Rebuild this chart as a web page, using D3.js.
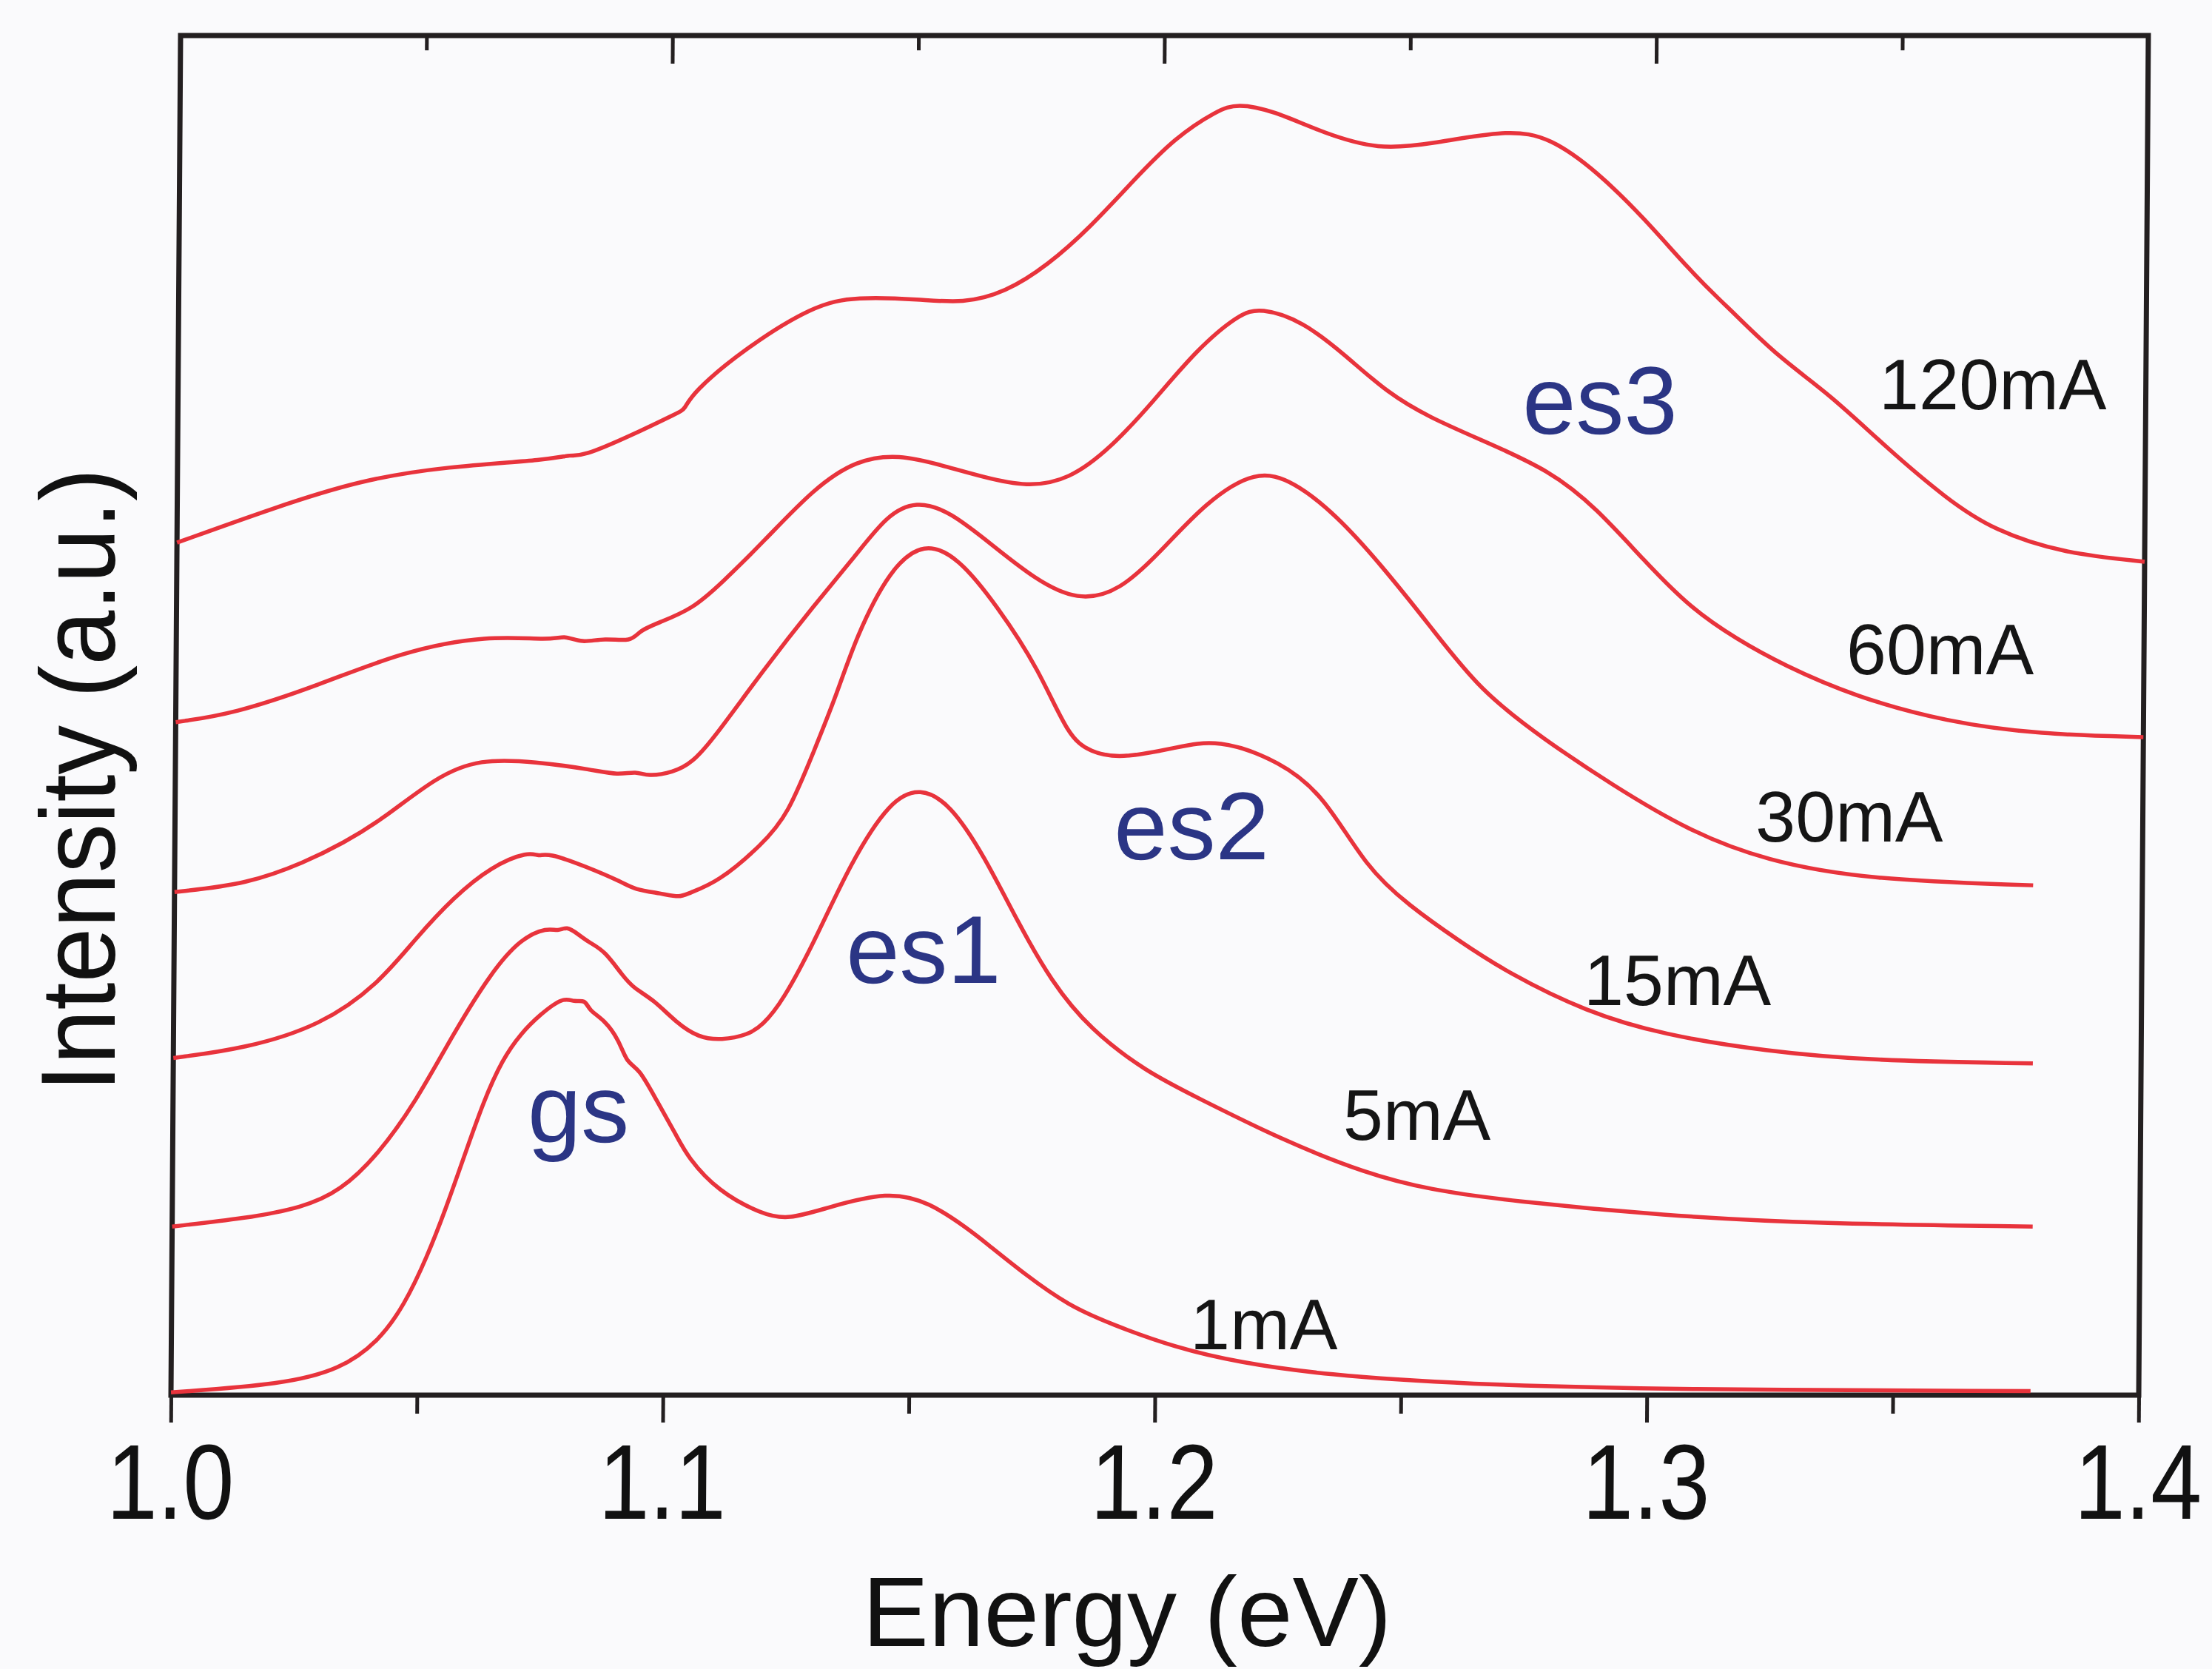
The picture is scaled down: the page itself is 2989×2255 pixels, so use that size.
<!DOCTYPE html>
<html>
<head>
<meta charset="utf-8">
<title>EL spectra vs current</title>
<script src="https://cdn.jsdelivr.net/npm/d3@7"></script>
<style>
  body { margin: 0; background: #fafafc; }
  text { font-family: "Liberation Sans", Arial, Helvetica, sans-serif; }
</style>
</head>
<body>
<svg width="2989" height="2255"></svg>
<script>
// spectra: [energy (eV), intensity (a.u., curves stacked)]
var s1mA = [[1.000,0.2],[1.0229,0.8],[1.0344,1.9],[1.0420,3.9],[1.0473,6.6],[1.0519,10.2],[1.0555,13.6],[1.0594,17.7],[1.0631,21.6],[1.0669,24.7],[1.0706,26.6],[1.0745,28.0],[1.0792,29.3],[1.0814,28.9],[1.0837,29.1],[1.0844,28.3],[1.0876,27.6],[1.0906,26.1],[1.0922,24.4],[1.0946,24.1],[1.0984,21.6],[1.1024,19.1],[1.1047,17.5],[1.1109,15.0],[1.1199,13.3],[1.1252,12.9],[1.1332,13.8],[1.1455,15.0],[1.1539,14.2],[1.1619,12.2],[1.1651,11.3],[1.1737,8.8],[1.1823,6.6],[1.1911,5.2],[1.2041,3.5],[1.2171,2.4],[1.2344,1.5],[1.2624,0.8],[1.3052,0.4],[1.3780,0.3]];
var s5mA = [[1.000,12.4],[1.0149,13.0],[1.0265,13.8],[1.0341,15.0],[1.0418,17.7],[1.0494,21.6],[1.0569,26.6],[1.0645,31.1],[1.0705,33.6],[1.0759,34.4],[1.0780,34.1],[1.0798,34.5],[1.0821,33.9],[1.0843,33.3],[1.0875,32.7],[1.0913,30.8],[1.0936,29.9],[1.0975,29.1],[1.1022,27.4],[1.1067,26.3],[1.1114,26.1],[1.1168,26.5],[1.1197,27.2],[1.1237,28.9],[1.1305,33.6],[1.1373,39.1],[1.1454,43.8],[1.1515,44.7],[1.1575,43.5],[1.1645,39.7],[1.1716,34.7],[1.1784,30.4],[1.1863,26.9],[1.1977,23.8],[1.2081,21.9],[1.2253,18.8],[1.2426,16.3],[1.2556,15.1],[1.2717,14.3],[1.3030,13.2],[1.3345,12.6],[1.3782,12.4]];
var s15mA = [[1.000,24.8],[1.0147,25.5],[1.0300,27.2],[1.0415,30.2],[1.0491,33.6],[1.0567,36.6],[1.0644,38.9],[1.0720,40.0],[1.0740,39.6],[1.0758,39.9],[1.0835,38.9],[1.0912,37.7],[1.0934,37.2],[1.0989,36.9],[1.1028,36.6],[1.1043,36.9],[1.1104,37.7],[1.1194,40.5],[1.1246,42.7],[1.1298,47.4],[1.1342,51.4],[1.1382,55.8],[1.1450,60.8],[1.1519,62.8],[1.1589,61.6],[1.1667,58.1],[1.1754,53.4],[1.1815,48.4],[1.1860,47.3],[1.1919,46.8],[1.2032,47.6],[1.2118,48.3],[1.2247,46.6],[1.2335,44.1],[1.2422,38.8],[1.2510,36.0],[1.2608,33.5],[1.2714,31.0],[1.2871,28.2],[1.3028,26.5],[1.3237,25.3],[1.3446,24.6],[1.3780,24.4]];
var s30mA = [[1.000,37.0],[1.0150,37.6],[1.0265,39.2],[1.0342,40.6],[1.0420,42.3],[1.0531,45.5],[1.0618,46.8],[1.0732,46.6],[1.0848,46.0],[1.0900,45.6],[1.0937,45.9],[1.0960,45.5],[1.1012,45.8],[1.1050,46.5],[1.1092,48.2],[1.1195,53.4],[1.1296,58.1],[1.1381,61.8],[1.1442,64.7],[1.1502,65.8],[1.1571,65.0],[1.1658,62.5],[1.1745,60.0],[1.1831,58.4],[1.1917,59.1],[1.2004,62.2],[1.2089,65.6],[1.2192,68.1],[1.2270,67.2],[1.2357,64.7],[1.2445,61.2],[1.2548,56.6],[1.2651,51.8],[1.2783,48.2],[1.2920,44.9],[1.3077,41.5],[1.3234,39.3],[1.3444,37.9],[1.3778,37.5]];
var s60mA = [[1.000,49.5],[1.0117,50.1],[1.0289,52.2],[1.0460,54.7],[1.0633,55.9],[1.0762,55.5],[1.0790,55.9],[1.0824,55.3],[1.0870,55.7],[1.0926,55.4],[1.0940,56.2],[1.0979,56.8],[1.1048,57.8],[1.1107,59.7],[1.1193,62.8],[1.1294,66.7],[1.1380,68.8],[1.1467,69.2],[1.1553,68.4],[1.1640,67.5],[1.1726,66.8],[1.1812,67.3],[1.1898,69.7],[1.1983,73.1],[1.2070,76.9],[1.2155,79.5],[1.2199,80.0],[1.2285,79.0],[1.2372,76.5],[1.2459,73.7],[1.2545,71.9],[1.2647,70.3],[1.2791,68.0],[1.2886,65.2],[1.2982,61.4],[1.3077,57.9],[1.3172,55.6],[1.3267,53.7],[1.3411,51.4],[1.3601,49.5],[1.3790,48.6],[1.4000,48.4]];
var s120mA = [[1.000,62.7],[1.0199,65.3],[1.0372,67.3],[1.0545,68.3],[1.0760,68.8],[1.0800,69.2],[1.0821,69.0],[1.0923,70.6],[1.1019,72.3],[1.1030,72.5],[1.1045,73.7],[1.1148,76.9],[1.1292,80.2],[1.1377,80.8],[1.1508,80.6],[1.1594,80.3],[1.1680,81.1],[1.1766,83.1],[1.1852,85.9],[1.1938,89.3],[1.2023,92.5],[1.2109,94.5],[1.2149,95.0],[1.2221,94.5],[1.2326,92.8],[1.2437,91.6],[1.2541,92.0],[1.2700,93.1],[1.2786,92.5],[1.2881,90.0],[1.2977,86.6],[1.3072,82.7],[1.3140,80.3],[1.3158,79.7],[1.3254,76.3],[1.3358,73.6],[1.3473,69.7],[1.3597,65.9],[1.3693,63.6],[1.3836,61.9],[1.4000,61.3]];

var series = [s1mA, s5mA, s15mA, s30mA, s60mA, s120mA];
var currents = ["1mA", "5mA", "15mA", "30mA", "60mA", "120mA"];
// where each current label sits, in data units [E, I]
var currentLabelAt = [[1.2071,3.4],[1.2379,18.8],[1.2866,28.7],[1.3213,40.7],[1.3395,53.0],[1.3458,72.5]];

var peaks = ["gs", "es1", "es2", "es3"];
var peakLabelAt = [[1.0721,18.6],[1.1366,30.3],[1.1909,39.4],[1.2733,70.7]];

var majorTicks = [1.0, 1.1, 1.2, 1.3, 1.4];
var minorTicks = [1.05, 1.15, 1.25, 1.35];

var svg = d3.select("svg");
var box = {left: 231, right: 2890, top: 48, bottom: 1885};

var x = d3.scaleLinear().domain([1.0, 1.4]).range([box.left, box.right]);
var y = d3.scaleLinear().domain([0, 100]).range([box.bottom, box.top]);

// the scanned figure leans a little, so the plot gets a tiny skew
var g = svg.append("g")
  .attr("transform", "translate(0," + box.bottom + ") skewX(-0.405) translate(0," + (-box.bottom) + ")");

var ink = "#231f20";

// frame
g.append("rect")
  .attr("x", box.left).attr("y", box.top)
  .attr("width", box.right - box.left).attr("height", box.bottom - box.top)
  .attr("fill", "none").attr("stroke", ink).attr("stroke-width", 7);

function tickAxis(values, size, ypos) {
  var ax = g.append("g")
    .attr("transform", "translate(0," + ypos + ")")
    .call(d3.axisBottom(x).tickValues(values).tickSize(size).tickFormat(""));
  ax.select(".domain").remove();
  ax.selectAll("line").attr("stroke", ink).attr("stroke-width", 5);
}
// bottom ticks point out, top ticks point in
tickAxis(majorTicks, 37, box.bottom);
tickAxis(minorTicks, 25, box.bottom);
tickAxis(majorTicks, 38, box.top);
tickAxis(minorTicks, 20, box.top);

g.selectAll(".xlab")
  .data(majorTicks)
  .join("text")
  .attr("class", "xlab")
  .attr("transform", function(d){ return "translate(" + x(d) + "," + (box.bottom + 167) + ") scale(1,1.16)"; })
  .attr("text-anchor", "middle")
  .attr("font-size", 124)
  .attr("fill", "#111")
  .text(d3.format(".1f"));

var line = d3.line()
  .x(function(d){ return x(d[0]); })
  .y(function(d){ return y(d[1]); })
  .curve(d3.curveBasis);

g.selectAll(".spec")
  .data(series)
  .join("path")
  .attr("class", "spec")
  .attr("d", line)
  .attr("fill", "none")
  .attr("stroke", "#e8333c")
  .attr("stroke-width", 5.5)
  .attr("stroke-linejoin", "round");

g.selectAll(".cur")
  .data(currents)
  .join("text")
  .attr("class", "cur")
  .attr("x", function(d, i){ return x(currentLabelAt[i][0]); })
  .attr("y", function(d, i){ return y(currentLabelAt[i][1]); })
  .attr("font-size", 97)
  .attr("fill", "#151515")
  .text(function(d){ return d; });

g.selectAll(".peak")
  .data(peaks)
  .join("text")
  .attr("class", "peak")
  .attr("x", function(d, i){ return x(peakLabelAt[i][0]); })
  .attr("y", function(d, i){ return y(peakLabelAt[i][1]); })
  .attr("font-size", 130)
  .attr("fill", "#2b3585")
  .text(function(d){ return d; });

// axis titles
svg.append("text")
  .attr("x", 1523).attr("y", 2224)
  .attr("text-anchor", "middle")
  .attr("font-size", 134)
  .attr("fill", "#111")
  .text("Energy (eV)");

svg.append("text")
  .attr("transform", "translate(155,1054) rotate(-90) scale(1,1.07)")
  .attr("text-anchor", "middle")
  .attr("font-size", 133)
  .attr("fill", "#111")
  .text("Intensity (a.u.)");
</script>
</body>
</html>
